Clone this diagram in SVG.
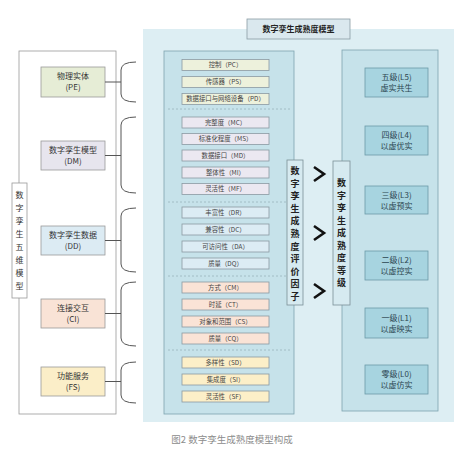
<svg xmlns="http://www.w3.org/2000/svg" width="474" height="454" viewBox="0 0 474 454">
<defs>
<style>
text{font-family:"Noto Sans CJK SC","Noto Sans",sans-serif;text-anchor:middle;fill:#333}
.node{stroke:#9a9a9a;stroke-width:0.8}
.it{stroke:#8a9aa2;stroke-width:0.8}
.it-t{font-size:6.4px;fill:#444}
.n-t{font-size:8px;fill:#333}
.lv{fill:#a7d4e0;stroke:#6b9aa8;stroke-width:0.8}
.lv-t{font-size:8px;fill:#2c4650}
.vt{font-size:9px;font-weight:bold;fill:#222}
.conn{fill:none;stroke:#555;stroke-width:1}
.dash{stroke:#9ab5bd;stroke-width:0.8;stroke-dasharray:2 2}
.chev{fill:none;stroke:#111;stroke-width:2.6;stroke-linejoin:miter}
</style>
</defs>
<rect width="474" height="454" fill="#ffffff"/>

<!-- background panel -->
<rect x="143" y="29" width="311" height="393" fill="#ddeef3"/>
<g id="title">
<rect x="247" y="19" width="103" height="20" fill="#dae8ee" stroke="#8a9ca4" stroke-width="0.8"/>
<text x="298.5" y="32" style="font-size:8px;font-weight:bold;fill:#222">数字孪生成熟度模型</text>
</g>

<!-- left frame -->
<g id="five-dim">
<rect x="19" y="51" width="97" height="363" fill="#ffffff" stroke="#9a9a9a" stroke-width="0.8"/>
<rect x="12" y="183" width="15" height="115" fill="#ffffff" stroke="#9a9a9a" stroke-width="0.8"/>
<g style="font-size:8px;fill:#333">
<text x="19.5" y="198">数</text><text x="19.5" y="211">字</text><text x="19.5" y="224">孪</text><text x="19.5" y="237">生</text>
<text x="19.5" y="250">五</text><text x="19.5" y="263">维</text><text x="19.5" y="276">模</text><text x="19.5" y="289">型</text>
</g>
</g>

<g id="PE"><rect class="node" x="41" y="67" width="64" height="30" fill="#e6edd6"/>
<text class="n-t" x="73" y="79">物理实体</text><text class="n-t" x="73" y="90">(PE)</text></g>
<g id="DM"><rect class="node" x="41" y="141" width="64" height="29" fill="#e7e5ee"/>
<text class="n-t" x="73" y="153">数字孪生模型</text><text class="n-t" x="73" y="164">(DM)</text></g>
<g id="DD"><rect class="node" x="41" y="226" width="64" height="29" fill="#dcebf3"/>
<text class="n-t" x="73" y="238">数字孪生数据</text><text class="n-t" x="73" y="249">(DD)</text></g>
<g id="CI"><rect class="node" x="41" y="299" width="64" height="29" fill="#f9e3d6"/>
<text class="n-t" x="73" y="311">连接交互</text><text class="n-t" x="73" y="322">(CI)</text></g>
<g id="FS"><rect class="node" x="41" y="367" width="64" height="29" fill="#fbeec8"/>
<text class="n-t" x="73" y="379">功能服务</text><text class="n-t" x="73" y="390">(FS)</text></g>

<g id="connectors">
<path class="conn" d="M105,82 H121 M136,62 Q121,62 121,70 V94 Q121,102 136,102"/>
<path class="conn" d="M105,155.5 H121 M136,117 Q121,117 121,125 V185 Q121,193 136,193"/>
<path class="conn" d="M105,240.5 H121 M136,208 Q121,208 121,216 V264 Q121,272 136,272"/>
<path class="conn" d="M105,313.5 H121 M136,282 Q121,282 121,290 V338 Q121,346 136,346"/>
<path class="conn" d="M105,381.5 H121 M136,362 Q121,362 121,370 V395 Q121,403 136,403"/>
<polyline class="chev" points="314,167 324,174 314,181"/>
<polyline class="chev" points="314,226 324,233 314,240"/>
<polyline class="chev" points="314,284 324,291 314,298"/>
</g>

<!-- factors panel -->
<g id="factors">
<rect x="164" y="51" width="130" height="363" fill="#c6e2ea" stroke="#7ea3ae" stroke-width="0.8"/>
<line class="dash" x1="168" y1="109" x2="290" y2="109"/>
<line class="dash" x1="168" y1="202" x2="290" y2="202"/>
<line class="dash" x1="168" y1="276" x2="290" y2="276"/>
<line class="dash" x1="168" y1="350" x2="290" y2="350"/>
<g fill="#edf1dc">
<rect class="it" x="182" y="59.5" width="87" height="11"/>
<rect class="it" x="182" y="76.5" width="87" height="11"/>
<rect class="it" x="182" y="93.5" width="87" height="11"/>
</g>
<g fill="#ebe8f1">
<rect class="it" x="182" y="117" width="87" height="11"/>
<rect class="it" x="182" y="133.5" width="87" height="11"/>
<rect class="it" x="182" y="150" width="87" height="11"/>
<rect class="it" x="182" y="167" width="87" height="11"/>
<rect class="it" x="182" y="183.5" width="87" height="11"/>
</g>
<g fill="#dcecf4">
<rect class="it" x="182" y="207" width="87" height="11"/>
<rect class="it" x="182" y="224" width="87" height="11"/>
<rect class="it" x="182" y="241" width="87" height="11"/>
<rect class="it" x="182" y="258" width="87" height="11"/>
</g>
<g fill="#fae3d6">
<rect class="it" x="182" y="282" width="87" height="11"/>
<rect class="it" x="182" y="299" width="87" height="11"/>
<rect class="it" x="182" y="316" width="87" height="11"/>
<rect class="it" x="182" y="333" width="87" height="11"/>
</g>
<g fill="#fcefc8">
<rect class="it" x="182" y="357" width="87" height="11"/>
<rect class="it" x="182" y="374" width="87" height="11"/>
<rect class="it" x="182" y="391" width="87" height="11"/>
</g>
<text class="it-t" x="225.5" y="67.4">控制（PC）</text>
<text class="it-t" x="225.5" y="84.4">传感器（PS）</text>
<text class="it-t" x="225.5" y="101.4">数据接口与网络设备（PD）</text>
<text class="it-t" x="225.5" y="124.9">完整度（MC）</text>
<text class="it-t" x="225.5" y="141.4">标准化程度（MS）</text>
<text class="it-t" x="225.5" y="157.9">数据接口（MD）</text>
<text class="it-t" x="225.5" y="174.9">整体性（MI）</text>
<text class="it-t" x="225.5" y="191.4">灵活性（MF）</text>
<text class="it-t" x="225.5" y="214.9">丰富性（DR）</text>
<text class="it-t" x="225.5" y="231.9">兼容性（DC）</text>
<text class="it-t" x="225.5" y="248.9">可访问性（DA）</text>
<text class="it-t" x="225.5" y="265.9">质量（DQ）</text>
<text class="it-t" x="225.5" y="289.9">方式（CM）</text>
<text class="it-t" x="225.5" y="306.9">时延（CT）</text>
<text class="it-t" x="225.5" y="323.9">对象和范围（CS）</text>
<text class="it-t" x="225.5" y="340.9">质量（CQ）</text>
<text class="it-t" x="225.5" y="364.9">多样性（SD）</text>
<text class="it-t" x="225.5" y="381.9">集成度（SI）</text>
<text class="it-t" x="225.5" y="398.9">灵活性（SF）</text>
</g>

<g id="factor-label">
<rect x="287" y="160" width="16" height="145" fill="#d6eaf0" stroke="#7a8f96" stroke-width="0.8"/>
<text class="vt" x="295" y="174">数</text><text class="vt" x="295" y="186.6">字</text><text class="vt" x="295" y="199.2">孪</text>
<text class="vt" x="295" y="211.8">生</text><text class="vt" x="295" y="224.4">成</text><text class="vt" x="295" y="237">熟</text>
<text class="vt" x="295" y="249.6">度</text><text class="vt" x="295" y="262.2">评</text><text class="vt" x="295" y="274.8">价</text>
<text class="vt" x="295" y="287.4">因</text><text class="vt" x="295" y="300">子</text>
</g>

<!-- levels panel -->
<g id="levels">
<rect x="342" y="50" width="96" height="361" fill="#c6e2ea" stroke="#7ea3ae" stroke-width="0.8"/>
</g>
<g id="level-label">
<rect x="333" y="161" width="17" height="144" fill="#d6eaf0" stroke="#7a8f96" stroke-width="0.8"/>
<text class="vt" x="341.5" y="186">数</text><text class="vt" x="341.5" y="198.5">字</text><text class="vt" x="341.5" y="211">孪</text>
<text class="vt" x="341.5" y="223.5">生</text><text class="vt" x="341.5" y="236">成</text><text class="vt" x="341.5" y="248.5">熟</text>
<text class="vt" x="341.5" y="261">度</text><text class="vt" x="341.5" y="273.5">等</text><text class="vt" x="341.5" y="286">级</text>
</g>

<g id="L5"><rect class="lv" x="365" y="68" width="63" height="29"/>
<text class="lv-t" x="396.5" y="80">五级(L5)</text><text class="lv-t" x="396.5" y="91">虚实共生</text></g>
<g id="L4"><rect class="lv" x="365" y="126" width="63" height="29"/>
<text class="lv-t" x="396.5" y="138">四级(L4)</text><text class="lv-t" x="396.5" y="149">以虚优实</text></g>
<g id="L3"><rect class="lv" x="365" y="186" width="63" height="28"/>
<text class="lv-t" x="396.5" y="197.5">三级(L3)</text><text class="lv-t" x="396.5" y="208.5">以虚预实</text></g>
<g id="L2"><rect class="lv" x="365" y="251" width="63" height="29"/>
<text class="lv-t" x="396.5" y="263">二级(L2)</text><text class="lv-t" x="396.5" y="274">以虚控实</text></g>
<g id="L1"><rect class="lv" x="365" y="308" width="63" height="30"/>
<text class="lv-t" x="396.5" y="320.5">一级(L1)</text><text class="lv-t" x="396.5" y="331.5">以虚映实</text></g>
<g id="L0"><rect class="lv" x="365" y="365" width="63" height="29"/>
<text class="lv-t" x="396.5" y="377">零级(L0)</text><text class="lv-t" x="396.5" y="388">以虚仿实</text></g>

<text x="232" y="443" style="font-size:9.5px;fill:#8c8c8c">图2 数字孪生成熟度模型构成</text>
</svg>
